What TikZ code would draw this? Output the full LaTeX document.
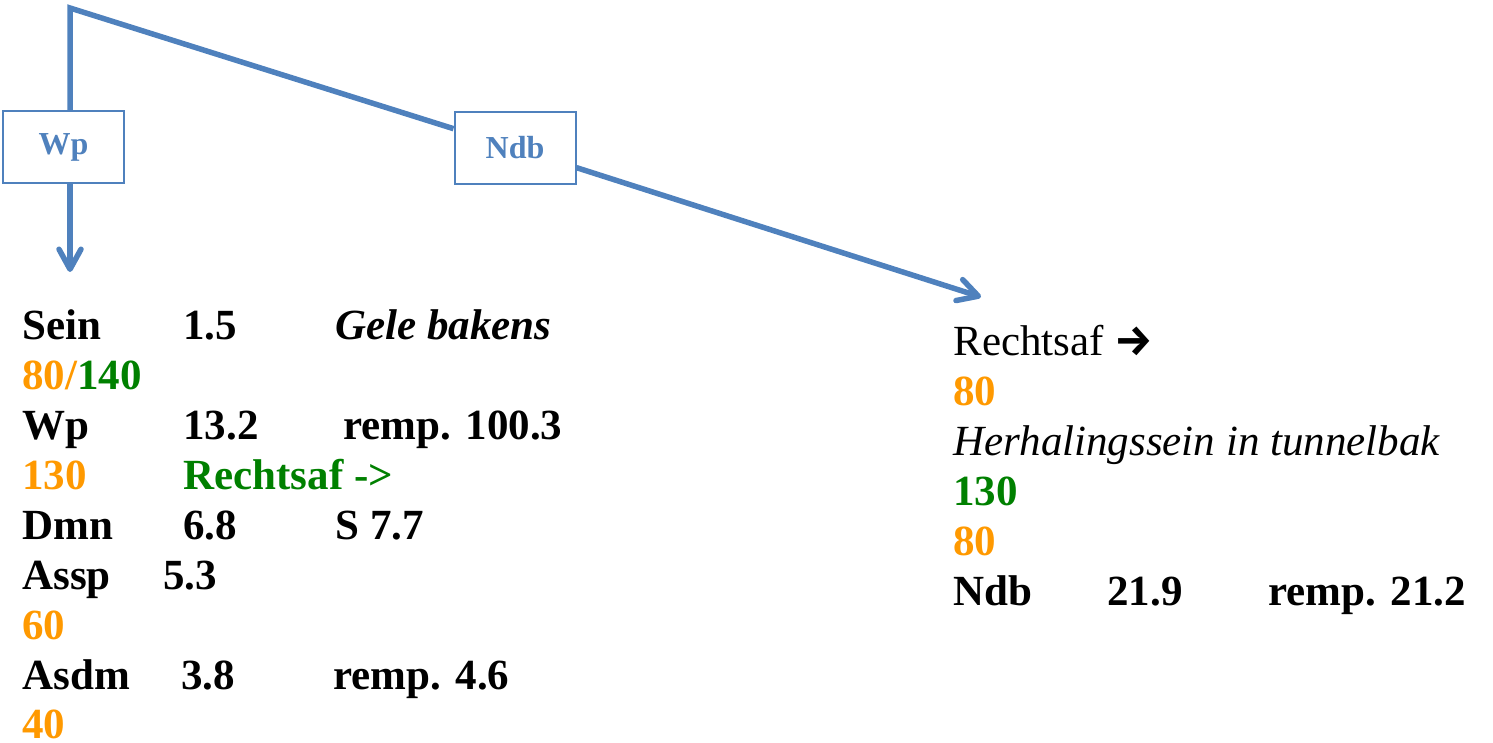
\documentclass[tikz,border=0pt]{standalone}
\usepackage{fontspec}
\setmainfont{Liberation Serif}
\newfontfamily\pijlfont{Fira Sans}
\usetikzlibrary{positioning,arrows.meta}
\definecolor{lijnblauw}{HTML}{4F81BD}
\definecolor{oranje}{HTML}{FF9900}
\definecolor{groen}{HTML}{008000}
\tikzset{
	lijn/.style={draw=lijnblauw, line width=2.75pt, line join=miter},
	pijl/.style={-{Straight Barb[length=10pt,width=11pt,round]}},
	kader/.style={draw=lijnblauw, line width=1pt, fill=white, minimum width=60.5pt, minimum height=36pt, inner sep=0pt, text=lijnblauw, font=\fontsize{16}{18}\selectfont\bfseries},
	regel/.style={anchor=base west, inner sep=0pt, font=\fontsize{21.5}{25}\selectfont\bfseries},
	gewoon/.style={regel, font=\fontsize{21.5}{25}\selectfont},
	schuin/.style={regel, font=\fontsize{21.5}{25}\selectfont\itshape}
}

\begin{document}
\begin{tikzpicture}[x=0.5pt, y=-0.5pt]
					\useasboundingbox (0,0) rectangle (1493,743);
					%Nodes
					\coordinate      (top) 	at 	(70,8);
					\coordinate      (wppijl) 	at 	(70,272);
					\coordinate      (ndbpijl) 	at 	(981,297);
					\node[kader] (wp)  at (63.5,147) {Wp};
					\node[kader] (ndb) at (515,148) {Ndb};

					%Text left
					\node[regel] (sein)     at (22,339)  {Sein};
					\node[regel] (seinkm)   at (183,339) {1.5};
					\node[schuin, font=\fontsize{21.5}{25}\selectfont\bfseries\itshape] (seinbak) at (335,339) {Gele bakens};
					\node[regel] (v1)       at (22,389)  {\textcolor{oranje}{80/}\textcolor{groen}{140}};
					\node[regel] (wpn)      at (22,439)  {Wp};
					\node[regel] (wpkm)     at (183,439) {13.2};
					\node[regel] (wpremp)   at (343,439) {remp. 100.3};
					\node[regel, text=oranje] (v2) at (22,489) {130};
					\node[regel, text=groen] (wprechts) at (183,489) {Rechtsaf ->};
					\node[regel] (dmn)      at (22,539)  {Dmn};
					\node[regel] (dmnkm)    at (183,539) {6.8};
					\node[regel] (dmns)     at (335,539) {S 7.7};
					\node[regel] (assp)     at (22,589)  {Assp};
					\node[regel] (asspkm)   at (163,589) {5.3};
					\node[regel, text=oranje] (v3) at (22,639) {60};
					\node[regel] (asdm)     at (22,689)  {Asdm};
					\node[regel] (asdmkm)   at (181,689) {3.8};
					\node[regel] (asdmremp) at (333,689) {remp. 4.6};
					\node[regel, text=oranje] (v4) at (22,738) {40};

					%Text right
					\node[gewoon] (rechtsaf) at (953,355) {Rechtsaf {\pijlfont\bfseries →}};
					\node[regel, text=oranje] (r1) at (953,405) {80};
					\node[schuin] (herh)     at (953,455) {Herhalingssein in tunnelbak};
					\node[regel, text=groen] (r2) at (953,505) {130};
					\node[regel, text=oranje] (r3) at (953,555) {80};
					\node[regel] (ndbn)      at (953,605)  {Ndb};
					\node[regel] (ndbkm)     at (1107,605) {21.9};
					\node[regel] (ndbremp)   at (1268,605) {remp. 21.2};

					%Lines
					\draw[lijn] (wp.north -| top) -- (top) -- (ndb);
					\draw[lijn, pijl] (wp.south -| top) -- (wppijl);
					\draw[lijn, pijl] (ndb) -- (ndbpijl);

				\end{tikzpicture}
\end{document}
